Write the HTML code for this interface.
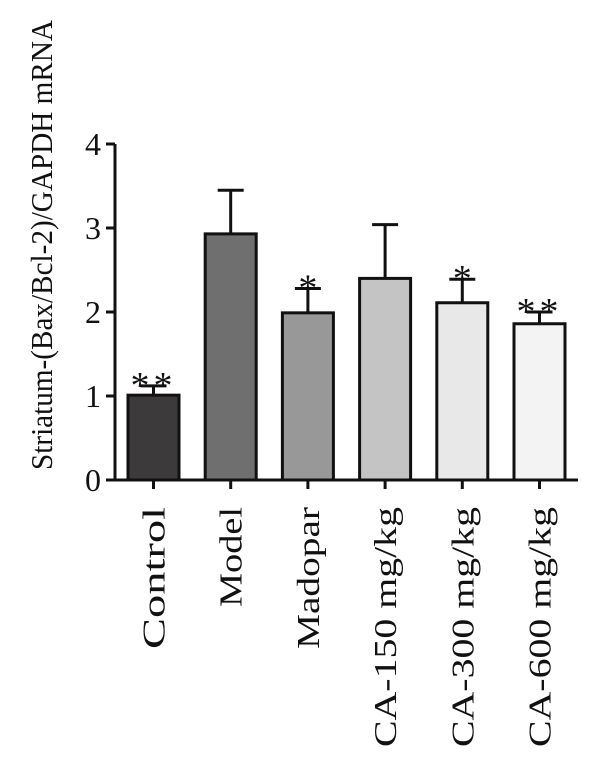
<!DOCTYPE html>
<html><head><meta charset="utf-8"><style>
html,body{margin:0;padding:0;background:#fff;}
svg text{font-family:"Liberation Serif",serif;fill:#111;}
</style></head><body>
<svg id="chart" width="600" height="755" viewBox="0 0 600 755" xmlns="http://www.w3.org/2000/svg">
<g id="plot"></g>
</svg>
<script>
const categories=["Control","Model","Madopar","CA-150 mg/kg","CA-300 mg/kg","CA-600 mg/kg"];
const values=[1.01,2.93,1.99,2.40,2.11,1.86];
const errors=[0.11,0.52,0.29,0.64,0.28,0.14];
const stars=["**","","*","","*","**"];
const colors=["#3c3a3b","#6f6f6f","#989898","#c4c4c4","#e8e8e8","#f3f3f3"];
const yTicks=[0,1,2,3,4];
const NS="http://www.w3.org/2000/svg";
const g=document.getElementById('plot');
const x0=115,xEnd=578,y0=480,pxPerUnit=84,step=77.2,firstCenter=153.5,barW=51;
function yScale(v){return y0-v*pxPerUnit;}
function xScale(i){return firstCenter+i*step;}
function mk(tag,attrs){const e=document.createElementNS(NS,tag);for(const k in attrs)e.setAttribute(k,attrs[k]);g.appendChild(e);return e;}
categories.forEach((c,i)=>{
  const cx=xScale(i),top=yScale(values[i]),et=yScale(values[i]+errors[i]);
  const eb=mk('line',{x1:cx,x2:cx,y1:top,y2:et,stroke:'#111','stroke-width':3});
  
  
  const cap=mk('line',{x1:cx-13,x2:cx+13,y1:et,y2:et,stroke:'#111','stroke-width':3});
  
  
  const r=mk('rect',{x:cx-barW/2,y:top,width:barW,height:y0-top,fill:colors[i],stroke:'#111','stroke-width':3});
  
  
  if(stars[i]){
    const s=mk('text',{x:cx,y:et+12,'text-anchor':'middle','font-size':38,'letter-spacing':stars[i].length>1?4:0});
    s.textContent=stars[i];
    
    
  }
  const tk=mk('line',{x1:cx,x2:cx,y1:y0,y2:y0+9,stroke:'#111','stroke-width':3});
  
  
  const len=c.length>8?240:(c.length===7?142:(c.length===5?100:118));
  const lb=mk('text',{x:0,y:0,'text-anchor':'end','font-size':32,textLength:len,lengthAdjust:'spacingAndGlyphs',transform:`translate(${cx+11},${y0+27}) rotate(-90)`});
  lb.textContent=c;
  
  
});
const ya=mk('line',{x1:x0,x2:x0,y1:yScale(4),y2:y0,stroke:'#111','stroke-width':3});


const xa=mk('line',{x1:x0-9,x2:xEnd,y1:y0,y2:y0,stroke:'#111','stroke-width':3});


yTicks.forEach(t=>{
  const y=yScale(t);
  const l=mk('line',{x1:x0-9,x2:x0,y1:y,y2:y,stroke:'#111','stroke-width':3});
  
  
  const tx=mk('text',{x:x0-14,y:y+11,'text-anchor':'end','font-size':32});
  tx.textContent=t;
  
  
});
const yt=mk('text',{x:0,y:0,'text-anchor':'middle','font-size':31,textLength:450,lengthAdjust:'spacingAndGlyphs',transform:'translate(52,245) rotate(-90)'});
yt.textContent='Striatum-(Bax/Bcl-2)/GAPDH mRNA';


</script>
</body></html>
